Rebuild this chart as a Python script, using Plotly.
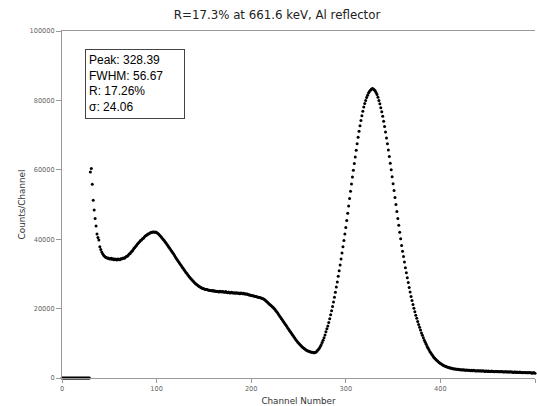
import plotly.graph_objects as go

# Counts per channel, channel 0 .. 500
zero_counts = [0] * 30  # channels 0-29

counts_030_040 = [59400, 60400, 55800, 51200, 48400, 46000, 43800, 41500, 40500, 39800, 37800]
counts_041_100 = [
    37000, 36300, 35800, 35400, 35100, 34800, 34700, 34500, 34600, 34400,
    34300, 34500, 34200, 34400, 34100, 34300, 34200, 34000, 34300, 34200,
    34100, 34400, 34300, 34500, 34600, 34500, 34800, 35000, 35100, 35400,
    35700, 35900, 36300, 36500, 36900, 37300, 37600, 38000, 38300, 38700,
    39000, 39300, 39600, 39800, 40100, 40300, 40600, 40900, 41100, 41300,
    41500, 41600, 41800, 41900, 42000, 42100, 42100, 42000, 42100, 41900,
]
counts_101_200 = [
    41700, 41500, 41200, 40900, 40600, 40300, 39900, 39600, 39200, 38900,
    38500, 38100, 37700, 37300, 36900, 36500, 36100, 35700, 35300, 34800,
    34400, 34000, 33600, 33200, 32800, 32400, 32000, 31600, 31200, 30800,
    30400, 30100, 29700, 29400, 29000, 28700, 28400, 28100, 27800, 27500,
    27200, 27000, 26800, 26600, 26400, 26200, 26100, 25900, 25800, 25700,
    25600, 25500, 25500, 25400, 25300, 25300, 25200, 25200, 25100, 25200,
    25000, 25100, 24900, 25000, 24900, 24800, 25000, 24900, 24800, 24900,
    24800, 24700, 24900, 24700, 24600, 24800, 24600, 24500, 24700, 24600,
    24500, 24600, 24400, 24600, 24500, 24400, 24500, 24300, 24500, 24400,
    24300, 24400, 24200, 24300, 24100, 24200, 24000, 23900, 23900, 23800,
]
counts_201_270 = [
    23700, 23700, 23600, 23500, 23500, 23400, 23300, 23300, 23200, 23100,
    23000, 22900, 22800, 22600, 22400, 22100, 21900, 21600, 21300, 21100,
    20900, 20600, 20400, 20100, 19800, 19400, 19100, 18700, 18300, 17900,
    17500, 17100, 16700, 16300, 15900, 15500, 15100, 14700, 14300, 13900,
    13500, 13100, 12700, 12300, 11900, 11500, 11100, 10700, 10400, 10100,
    9800, 9500, 9200, 8900, 8700, 8500, 8300, 8100, 7900, 7800,
    7700, 7600, 7500, 7400, 7400, 7300, 7300, 7400, 7600, 7900,
]
counts_271_330 = [
    8200, 8600, 9100, 9600, 10200, 10900, 11600, 12400, 13300, 14200,
    15000, 16000, 17100, 18200, 19400, 20600, 21900, 23300, 24700, 26200,
    27700, 29300, 30900, 32600, 34300, 36000, 37800, 39600, 41500, 43400,
    45400, 47500, 49600, 51700, 53800, 55900, 57900, 59900, 61800, 63700,
    65600, 67500, 69400, 71100, 72700, 74200, 75600, 76900, 78100, 79100,
    80000, 80800, 81500, 82100, 82600, 82900, 83200, 83400, 83300, 83100,
]
counts_331_400 = [
    82800, 82300, 81700, 80900, 80000, 79000, 77900, 76700, 75400, 74000,
    72500, 70900, 69200, 67500, 65700, 63800, 61900, 60000, 58000, 56000,
    54000, 52000, 50000, 48000, 46000, 44000, 42000, 40100, 38200, 36500,
    35000, 33400, 31800, 30300, 28900, 27500, 26100, 24800, 23500, 22300,
    21200, 20100, 19100, 18100, 17200, 16300, 15400, 14600, 13800, 13000,
    12300, 11600, 10900, 10300, 9700, 9100, 8600, 8100, 7600, 7200,
    6800, 6400, 6000, 5700, 5400, 5100, 4900, 4600, 4400, 4200,
]
counts_401_500 = [
    4000, 3800, 3700, 3500, 3400, 3300, 3200, 3100, 3000, 2900,
    2900, 2800, 2700, 2700, 2600, 2600, 2500, 2500, 2500, 2400,
    2400, 2400, 2300, 2400, 2300, 2300, 2200, 2300, 2200, 2200,
    2200, 2100, 2200, 2100, 2200, 2100, 2100, 2000, 2100, 2100,
    2000, 2100, 2000, 2000, 2100, 2000, 1900, 2000, 2000, 1900,
    2000, 1900, 1900, 2000, 1900, 1900, 1800, 1900, 1900, 1800,
    1900, 1800, 1800, 1900, 1800, 1800, 1700, 1800, 1800, 1700,
    1800, 1700, 1700, 1800, 1700, 1700, 1600, 1700, 1700, 1600,
    1700, 1600, 1600, 1700, 1600, 1600, 1500, 1600, 1600, 1500,
    1600, 1500, 1500, 1600, 1500, 1500, 1400, 1500, 1500, 1400,
]

counts = (zero_counts + counts_030_040 + counts_041_100 + counts_101_200 +
          counts_201_270 + counts_271_330 + counts_331_400 + counts_401_500)
channels = list(range(len(counts)))

x_ticks = [0, 100, 200, 300, 400, 500]
y_ticks = [0, 20000, 40000, 60000, 80000, 100000]

title_text = "R=17.3% at 661.6 keV, Al reflector"
stats_lines = ["Peak: 328.39", "FWHM: 56.67", "R: 17.26%", "σ: 24.06"]

fig = go.Figure()
fig.add_trace(go.Scatter(
    x=channels, y=counts, mode="markers",
    marker=dict(color="black", size=3, line=dict(width=0)),
    cliponaxis=False, showlegend=False, hoverinfo="x+y",
))

axis_font = dict(family="DejaVu Sans", size=6.6, color="#666666")
fig.update_layout(
    width=537, height=406,
    margin=dict(l=62, r=2, t=31, b=28),
    paper_bgcolor="white", plot_bgcolor="white",
    title=dict(text=title_text, x=0.516, xref="container", xanchor="center",
               y=1 - 15 / 406, yanchor="middle",
               font=dict(family="DejaVu Sans", size=11.8, color="#222222")),
    xaxis=dict(range=[0, 500], tickvals=x_ticks, ticktext=[str(v) for v in x_ticks],
               automargin=False,
               showgrid=False, zeroline=False, showline=True, linecolor="#999999",
               linewidth=1, mirror=True, ticks="outside", ticklen=4, tickcolor="#999999",
               tickfont=axis_font,
               title=dict(text="Channel Number", standoff=5,
                          font=dict(family="DejaVu Sans", size=8.8, color="#333333"))),
    yaxis=dict(range=[0, 100000], tickvals=y_ticks, ticktext=[str(v) for v in y_ticks],
               automargin=False,
               showgrid=False, zeroline=False, showline=True, linecolor="#999999",
               linewidth=1, ticks="outside", ticklen=5, tickcolor="#999999",
               tickfont=axis_font,
               title=dict(text="Counts/Channel", standoff=2,
                          font=dict(family="DejaVu Sans", size=8.8, color="#333333"))),
)

fig.add_annotation(
    xref="paper", yref="paper", x=(85 - 62) / 473, y=1 - (49 - 31) / 347,
    xanchor="left", yanchor="top", showarrow=False, align="left", valign="top",
    text="<br>".join(stats_lines), width=92, height=62,
    font=dict(family="Liberation Sans", size=12, color="black"),
    bordercolor="#444444", borderwidth=1, borderpad=3, bgcolor="white",
)

fig.write_html("out.html", config={"displayModeBar": False},
               post_script="document.body.style.margin='0';")
